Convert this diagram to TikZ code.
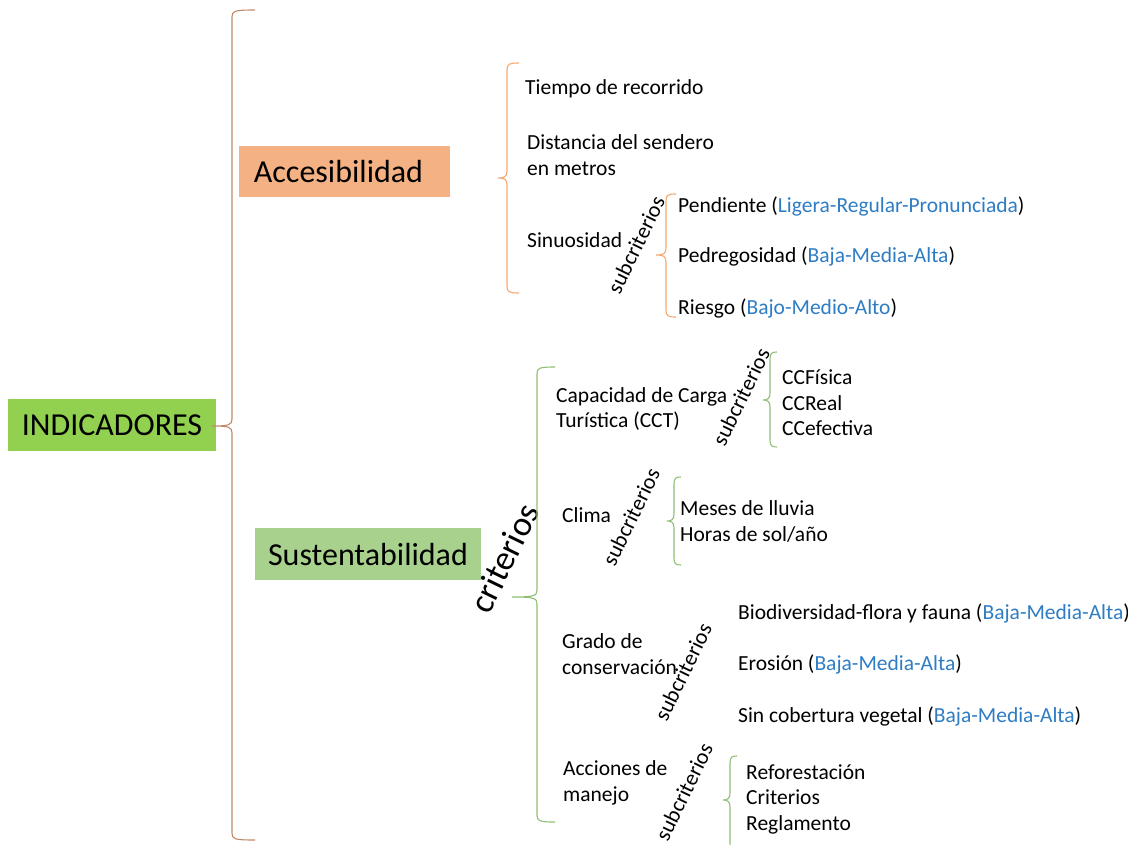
\documentclass[tikz,border=0pt]{standalone}
\usepackage{fontspec}
\setmainfont{Carlito}
\definecolor{indgreen}{HTML}{92D050}
\definecolor{accorange}{HTML}{F4B183}
\definecolor{susgreen}{HTML}{A9D18E}
\definecolor{bigbrace}{HTML}{C08A6A}
\definecolor{orbrace}{HTML}{F4A870}
\definecolor{grbrace}{HTML}{8FBF73}
\definecolor{lvblue}{HTML}{2E7CC4}
\newcommand{\blu}[1]{\textcolor{lvblue}{#1}}
% #1 style, #2 x, #3 top, #4 tip y, #5 bottom, #6 arm length, #7 tip length
\newcommand{\bracepath}[7]{%
  \draw[#1] ({#2+#6},#3) .. controls ({#2+2},#3) and (#2,{#3+1}) .. (#2,{#3+7})
    -- (#2,{#4-7}) .. controls (#2,{#4-1}) and ({#2-3},#4) .. ({#2-#7},#4)
    .. controls ({#2-3},#4) and (#2,{#4+1}) .. (#2,{#4+7})
    -- (#2,{#5-7}) .. controls (#2,{#5-1}) and ({#2+2},#5) .. ({#2+#6},#5);}
\begin{document}
\begin{tikzpicture}[x=1pt,y=-1pt,
  box/.style={inner sep=0pt, minimum width=#1, font=\fontsize{32}{34}\selectfont},
  item/.style={anchor=west, inner sep=0pt, font=\fontsize{21.5}{25.5}\selectfont, align=left},
  sub/.style={inner sep=0pt, rotate=64, font=\fontsize{22}{24}\selectfont},
  crit/.style={inner sep=0pt, rotate=64, font=\fontsize{35}{36}\selectfont},
  bline/.style={line width=1.1pt}]
\useasboundingbox (0,0) rectangle (1128,844);

% main boxes
\node[box=208pt, minimum height=52pt, fill=indgreen] (ind) at (112,425) {INDICADORES};
\node[box=211pt, minimum height=51pt, fill=accorange] (acc) at (344.5,171.5) {\hspace*{-12pt}Accesibilidad};
\node[box=226pt, minimum height=52pt, fill=susgreen] (sus) at (368,554) {Sustentabilidad};

% big brace
\bracepath{bline, bigbrace}{232}{10}{426}{840}{23}{20}

% Accesibilidad brace
\bracepath{bline, orbrace}{507}{63}{178}{293}{12}{9}
\node[item] (tiempo) at (525,89) {Tiempo de recorrido};
\node[item] (dist) at (527,155) {Distancia del sendero\\en metros};
\node[item] (sinu) at (527,240) {Sinuosidad};
\node[sub] (sub1) at (636,245) {subcriterios};
\bracepath{bline, orbrace}{666}{194}{255}{317}{10}{10}
\node[item] (pend) at (678,206) {Pendiente (\blu{Ligera-Regular-Pronunciada})};
\node[item] (pedr) at (678,256) {Pedregosidad (\blu{Baja-Media-Alta})};
\node[item] (ries) at (678,308) {Riesgo (\blu{Bajo-Medio-Alto})};

% Sustentabilidad
\node[crit] (crit) at (504,558) {criterios};
\bracepath{bline, grbrace}{537}{367}{597}{822}{18}{25}

\node[item] (cct) at (556,409) {Capacidad de Carga\\Turística (CCT)};
\node[sub] (sub2) at (741,397) {subcriterios};
\bracepath{bline, grbrace}{770}{352}{400}{447}{7}{7}
\node[item] (ccf) at (782,403) {CCFísica\\CCReal\\CCefectiva};

\node[item] (clima) at (562,515) {Clima};
\node[sub] (sub3) at (631,517) {subcriterios};
\bracepath{bline, grbrace}{674}{477}{521}{565}{7}{7}
\node[item] (meses) at (680,521.5) {Meses de lluvia\\Horas de sol/año};

\node[item] (grado) at (562,654) {Grado de\\conservación};
\node[sub] (sub4) at (683,672) {subcriterios};
\node[item] (bio) at (738,613) {Biodiversidad-flora y fauna (\blu{Baja-Media-Alta})};
\node[item] (eros) at (738,664) {Erosión (\blu{Baja-Media-Alta})};
\node[item] (sinc) at (738,716) {Sin cobertura vegetal (\blu{Baja-Media-Alta})};

\node[item] (acci) at (563,783) {Acciones de\\manejo};
\node[sub] (sub5) at (684,792) {subcriterios};
\bracepath{bline, grbrace}{730}{756}{800}{850}{7}{7}
\node[item] (refo) at (746,799) {Reforestación\\Criterios\\Reglamento};
\end{tikzpicture}
\end{document}
